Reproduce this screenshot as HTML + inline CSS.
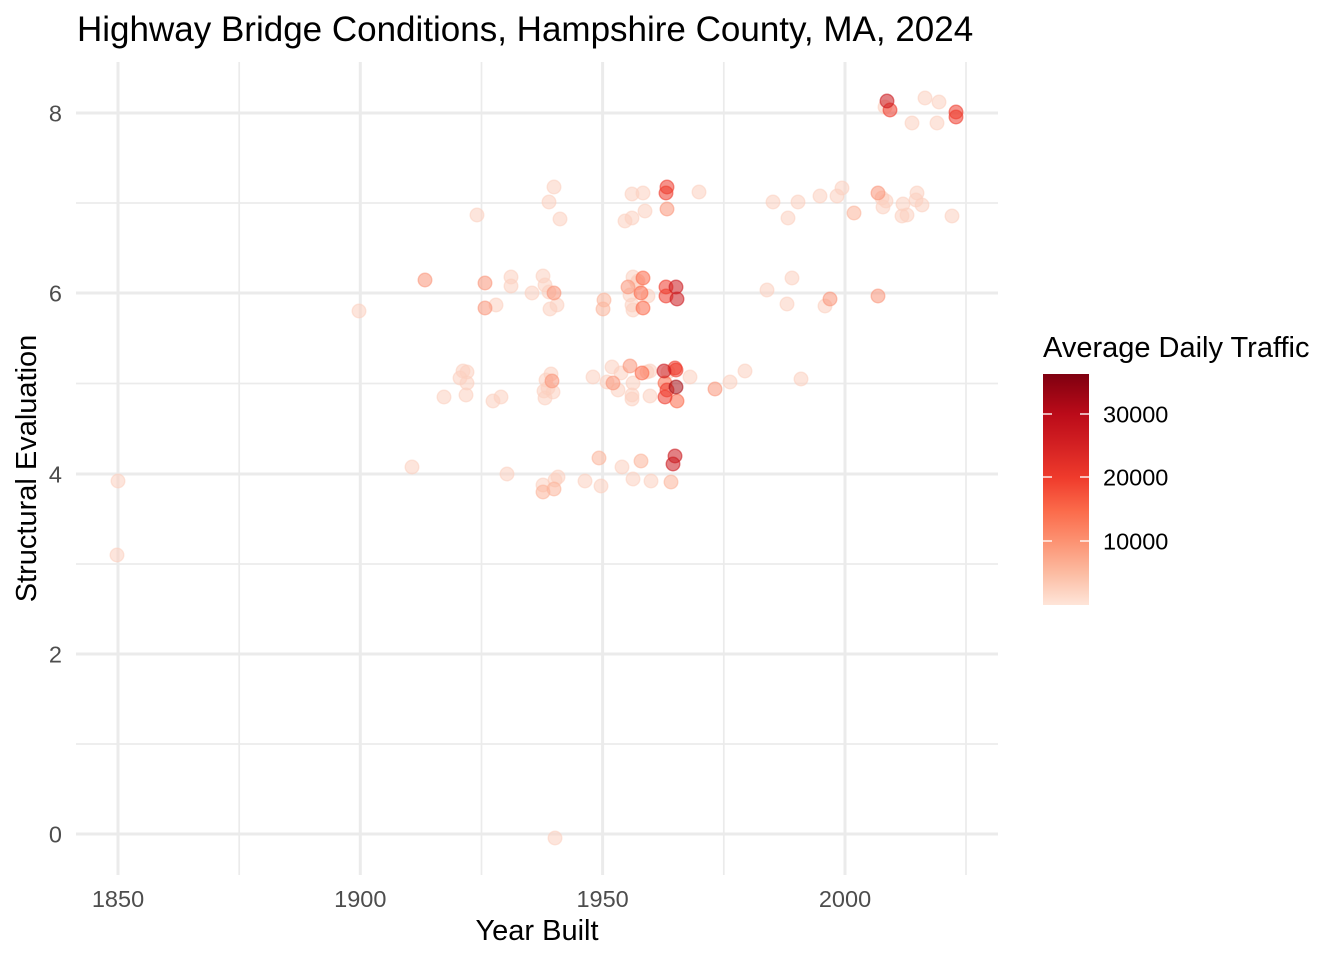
<!DOCTYPE html>
<html><head><meta charset="utf-8"><style>
html,body{margin:0;padding:0;background:#fff;}
svg{display:block;font-family:"Liberation Sans",Arial,sans-serif;}
</style></head><body>
<svg width="1344" height="960" viewBox="0 0 1344 960" xmlns="http://www.w3.org/2000/svg">
<defs>
<linearGradient id="lg" x1="0" y1="1" x2="0" y2="0">
<stop offset="0" stop-color="#FEE5D9"/>
<stop offset="0.14" stop-color="#FCBBA1"/>
<stop offset="0.275" stop-color="#FC9272"/>
<stop offset="0.41" stop-color="#FB6A4A"/>
<stop offset="0.55" stop-color="#EF3B2C"/>
<stop offset="0.70" stop-color="#D21F22"/>
<stop offset="0.826" stop-color="#BB0B19"/>
<stop offset="1" stop-color="#7F0010"/>
</linearGradient>
</defs>
<rect width="1344" height="960" fill="#fff"/>
<!-- minor grid -->
<g stroke="#EBEBEB" stroke-width="1.7">
<line x1="76" x2="998" y1="744" y2="744"/>
<line x1="76" x2="998" y1="564" y2="564"/>
<line x1="76" x2="998" y1="383.5" y2="383.5"/>
<line x1="76" x2="998" y1="203" y2="203"/>
<line x1="239.2" x2="239.2" y1="62" y2="875"/>
<line x1="481.5" x2="481.5" y1="62" y2="875"/>
<line x1="723.8" x2="723.8" y1="62" y2="875"/>
<line x1="966" x2="966" y1="62" y2="875"/>
</g>
<!-- major grid -->
<g stroke="#EBEBEB" stroke-width="3">
<line x1="76" x2="998" y1="834" y2="834"/>
<line x1="76" x2="998" y1="654" y2="654"/>
<line x1="76" x2="998" y1="474" y2="474"/>
<line x1="76" x2="998" y1="293" y2="293"/>
<line x1="76" x2="998" y1="113" y2="113"/>
<line x1="118" x2="118" y1="62" y2="875"/>
<line x1="360.3" x2="360.3" y1="62" y2="875"/>
<line x1="602.6" x2="602.6" y1="62" y2="875"/>
<line x1="845" x2="845" y1="62" y2="875"/>
</g>
<!-- points -->
<g stroke-width="1.4" fill-opacity="0.55" stroke-opacity="0.55">
<g fill="#FCD0C0" stroke="#FCD0C0">
<circle cx="118" cy="481" r="6.8"/><circle cx="117" cy="555" r="6.8"/>
<circle cx="359" cy="311" r="6.8"/><circle cx="412" cy="467" r="6.8"/>
<circle cx="477" cy="215" r="6.8"/><circle cx="554" cy="187" r="6.8"/><circle cx="549" cy="202" r="6.8"/><circle cx="560" cy="219" r="6.8"/>
<circle cx="511" cy="277" r="6.8"/><circle cx="511" cy="286" r="6.8"/><circle cx="532" cy="293" r="6.8"/><circle cx="543" cy="276" r="6.8"/><circle cx="545" cy="285" r="6.8"/><circle cx="557" cy="305" r="6.8"/><circle cx="550" cy="309" r="6.8"/><circle cx="496" cy="305" r="6.8"/><circle cx="549" cy="292" r="6.8"/>
<circle cx="463" cy="371" r="6.8"/><circle cx="467" cy="372" r="6.8"/><circle cx="460" cy="378" r="6.8"/><circle cx="467" cy="383" r="6.8"/><circle cx="444" cy="397" r="6.8"/><circle cx="466" cy="395" r="6.8"/><circle cx="493" cy="401" r="6.8"/><circle cx="501" cy="397" r="6.8"/>
<circle cx="551" cy="374" r="6.8"/><circle cx="546" cy="380" r="6.8"/><circle cx="544" cy="391" r="6.8"/><circle cx="553" cy="392" r="6.8"/><circle cx="545" cy="398" r="6.8"/><circle cx="548" cy="388" r="6.8"/>
<circle cx="507" cy="474" r="6.8"/><circle cx="558" cy="477" r="6.8"/><circle cx="555" cy="480" r="6.8"/><circle cx="543" cy="485" r="6.8"/><circle cx="585" cy="481" r="6.8"/><circle cx="601" cy="486" r="6.8"/><circle cx="622" cy="467" r="6.8"/><circle cx="633" cy="479" r="6.8"/><circle cx="651" cy="481" r="6.8"/>
<circle cx="633" cy="277" r="6.8"/><circle cx="638" cy="281" r="6.8"/><circle cx="637" cy="283" r="6.8"/><circle cx="648" cy="296" r="6.8"/><circle cx="630" cy="295" r="6.8"/><circle cx="632" cy="305" r="6.8"/><circle cx="633" cy="310" r="6.8"/>
<circle cx="632" cy="194" r="6.8"/><circle cx="643" cy="193" r="6.8"/><circle cx="699" cy="192" r="6.8"/><circle cx="645" cy="211" r="6.8"/><circle cx="632" cy="218" r="6.8"/><circle cx="625" cy="221" r="6.8"/>
<circle cx="593" cy="377" r="6.8"/><circle cx="612" cy="367" r="6.8"/><circle cx="621" cy="373" r="6.8"/><circle cx="607" cy="382" r="6.8"/><circle cx="618" cy="390" r="6.8"/><circle cx="633" cy="383" r="6.8"/><circle cx="632" cy="395" r="6.8"/><circle cx="632" cy="399" r="6.8"/><circle cx="647" cy="372" r="6.8"/><circle cx="650" cy="371" r="6.8"/><circle cx="650" cy="396" r="6.8"/><circle cx="668" cy="372" r="6.8"/><circle cx="690" cy="377" r="6.8"/><circle cx="730" cy="382" r="6.8"/><circle cx="745" cy="371" r="6.8"/><circle cx="801" cy="379" r="6.8"/>
<circle cx="885" cy="107" r="6.8"/><circle cx="925" cy="98" r="6.8"/><circle cx="939" cy="102" r="6.8"/><circle cx="912" cy="123" r="6.8"/><circle cx="937" cy="123" r="6.8"/>
<circle cx="773" cy="202" r="6.8"/><circle cx="798" cy="202" r="6.8"/><circle cx="788" cy="218" r="6.8"/><circle cx="820" cy="196" r="6.8"/><circle cx="837" cy="196" r="6.8"/><circle cx="842" cy="188" r="6.8"/><circle cx="882" cy="198" r="6.8"/><circle cx="886" cy="201" r="6.8"/><circle cx="883" cy="207" r="6.8"/><circle cx="903" cy="204" r="6.8"/><circle cx="902" cy="216" r="6.8"/><circle cx="907" cy="215" r="6.8"/><circle cx="917" cy="193" r="6.8"/><circle cx="916" cy="200" r="6.8"/><circle cx="922" cy="205" r="6.8"/><circle cx="952" cy="216" r="6.8"/>
<circle cx="767" cy="290" r="6.8"/><circle cx="792" cy="278" r="6.8"/><circle cx="787" cy="304" r="6.8"/><circle cx="825" cy="306" r="6.8"/>
<circle cx="555" cy="838" r="6.8"/>
</g>
<g fill="#FCB49B" stroke="#FCB49B">
<circle cx="543" cy="492" r="6.8"/><circle cx="554" cy="489" r="6.8"/><circle cx="599" cy="458" r="6.8"/><circle cx="641" cy="461" r="6.8"/><circle cx="671" cy="482" r="6.8"/>
<circle cx="604" cy="300" r="6.8"/><circle cx="603" cy="309" r="6.8"/><circle cx="854" cy="213" r="6.8"/>
</g>
<g fill="#F9967A" stroke="#F9967A">
<circle cx="425" cy="280" r="6.8"/><circle cx="485" cy="283" r="6.8"/><circle cx="554" cy="293" r="6.8"/><circle cx="485" cy="308" r="6.8"/><circle cx="552" cy="381" r="6.8"/>
<circle cx="628" cy="287" r="6.8"/><circle cx="667" cy="209" r="6.8"/><circle cx="630" cy="366" r="6.8"/><circle cx="613" cy="383" r="6.8"/><circle cx="715" cy="389" r="6.8"/>
<circle cx="878" cy="193" r="6.8"/><circle cx="830" cy="299" r="6.8"/><circle cx="878" cy="296" r="6.8"/>
</g>
<g fill="#FB6A4A" stroke="#FB6A4A">
<circle cx="643" cy="278" r="6.8"/><circle cx="641" cy="293" r="6.8"/><circle cx="643" cy="308" r="6.8"/>
<circle cx="642" cy="373" r="6.8"/><circle cx="665" cy="383" r="6.8"/><circle cx="677" cy="401" r="6.8"/>
</g>
<g fill="#EF3B2C" stroke="#EF3B2C">
<circle cx="666" cy="287" r="6.8"/><circle cx="666" cy="296" r="6.8"/>
<circle cx="667" cy="187" r="6.8"/><circle cx="666" cy="193" r="6.8"/>
<circle cx="675" cy="368" r="6.8"/><circle cx="676" cy="370" r="6.8"/><circle cx="667" cy="390" r="6.8"/><circle cx="665" cy="397" r="6.8"/>
<circle cx="890" cy="110" r="6.8"/><circle cx="956" cy="112" r="6.8"/><circle cx="956" cy="117" r="6.8"/>
</g>
<g fill="#CB181D" stroke="#CB181D">
<circle cx="676" cy="287" r="6.8"/><circle cx="677" cy="299" r="6.8"/><circle cx="664" cy="371" r="6.8"/>
<circle cx="675" cy="456" r="6.8"/><circle cx="673" cy="464" r="6.8"/><circle cx="887" cy="101" r="6.8"/>
</g>
<g fill="#A50F15" stroke="#A50F15">
<circle cx="676" cy="387" r="6.8"/>
</g>
</g>
<!-- title -->
<text x="77" y="41" font-size="35" fill="#000">Highway Bridge Conditions, Hampshire County, MA, 2024</text>
<!-- y tick labels -->
<g font-size="23.5" fill="#4D4D4D" text-anchor="end">
<text x="62" y="842.5">0</text>
<text x="62" y="662.5">2</text>
<text x="62" y="482.5">4</text>
<text x="62" y="301.5">6</text>
<text x="62" y="121.5">8</text>
</g>
<!-- x tick labels -->
<g font-size="23.5" fill="#4D4D4D" text-anchor="middle">
<text x="118" y="907">1850</text>
<text x="360.3" y="907">1900</text>
<text x="602.6" y="907">1950</text>
<text x="845" y="907">2000</text>
</g>
<!-- axis titles -->
<text x="537" y="940" font-size="29" text-anchor="middle" fill="#000">Year Built</text>
<text transform="translate(36,468.5) rotate(-90)" font-size="29" text-anchor="middle" fill="#000">Structural Evaluation</text>
<!-- legend -->
<text x="1043" y="357" font-size="29" fill="#000">Average Daily Traffic</text>
<rect x="1043" y="374" width="46" height="231" fill="url(#lg)"/>
<g stroke="#fff" stroke-width="1.5" opacity="0.9">
<line x1="1043" x2="1052" y1="414" y2="414"/><line x1="1080" x2="1089" y1="414" y2="414"/>
<line x1="1043" x2="1052" y1="477" y2="477"/><line x1="1080" x2="1089" y1="477" y2="477"/>
<line x1="1043" x2="1052" y1="541" y2="541"/><line x1="1080" x2="1089" y1="541" y2="541"/>
</g>
<g font-size="23.5" fill="#000">
<text x="1103" y="422.5">30000</text>
<text x="1103" y="485.5">20000</text>
<text x="1103" y="549.5">10000</text>
</g>
</svg>
</body></html>
